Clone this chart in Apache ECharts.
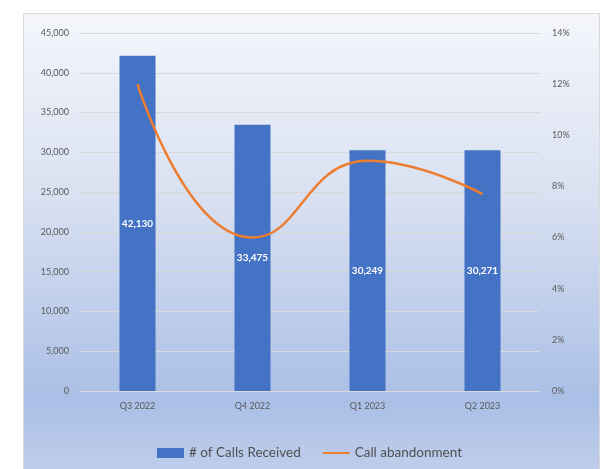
<!DOCTYPE html>
<html>
<head>
<meta charset="utf-8">
<script src="https://cdn.jsdelivr.net/npm/echarts@6/dist/echarts.min.js"></script>
<style>
  html, body { margin: 0; padding: 0; background: #ffffff; }
  #chart { width: 604px; height: 469px; }
</style>
</head>
<body>
<div id="chart"></div>
<script>
// Quarterly call-centre volume and abandonment rate
const quarters = ['Q3 2022', 'Q4 2022', 'Q1 2023', 'Q2 2023'];
const callsReceived = [42130, 33475, 30249, 30271];
const abandonmentPct = [12.0, 6.0, 9.0, 7.7];
const leftTicks = { min: 0, max: 45000, interval: 5000 };
const rightTicks = { min: 0, max: 14, interval: 2 };

const fontFamily = 'Lato, "Liberation Sans", sans-serif';
const textGrey = '#595959';

const chart = echarts.init(document.getElementById('chart'), null, { renderer: 'canvas' });

chart.setOption({
  animation: false,
  backgroundColor: '#ffffff',
  graphic: [{
    type: 'rect',
    z: -10,
    silent: true,
    shape: { x: 23.5, y: 13.5, width: 576, height: 470 },
    style: {
      fill: new echarts.graphic.LinearGradient(0, 0, 0, 1, [
        { offset: 0, color: '#f4f6fb' },
        { offset: 0.4, color: '#d8e0f1' },
        { offset: 0.82, color: '#aabfe6' },
        { offset: 1, color: '#c3d0ec' }
      ]),
      stroke: '#d9d9d9',
      lineWidth: 1
    }
  }],
  grid: { left: 80, right: 64, top: 33, bottom: 78, containLabel: false },
  legend: {
    left: 152,
    top: 441,
    itemGap: 22,
    itemWidth: 27,
    itemHeight: 10,
    textStyle: { color: '#505050', fontSize: 13.5, fontFamily: fontFamily },
    data: [
      { name: '# of Calls Received', icon: 'rect' },
      { name: 'Call abandonment', icon: 'path://M0,4 L27,4 L27,6 L0,6 Z' }
    ]
  },
  xAxis: {
    type: 'category',
    data: quarters,
    axisLine: { show: false },
    axisTick: { show: false },
    axisLabel: { color: textGrey, fontSize: 9, fontFamily: fontFamily, margin: 11 }
  },
  yAxis: [{
    type: 'value',
    min: leftTicks.min,
    max: leftTicks.max,
    interval: leftTicks.interval,
    axisLine: { show: false },
    axisTick: { show: false },
    splitLine: { lineStyle: { color: '#d9d9d9', width: 1 } },
    axisLabel: {
      color: textGrey, fontSize: 9, fontFamily: fontFamily, margin: 11,
      formatter: v => v.toLocaleString('en-US')
    }
  }, {
    type: 'value',
    min: rightTicks.min,
    max: rightTicks.max,
    interval: rightTicks.interval,
    axisLine: { show: false },
    axisTick: { show: false },
    splitLine: { show: false },
    axisLabel: {
      color: textGrey, fontSize: 9, fontFamily: fontFamily, margin: 12,
      formatter: '{value}%'
    }
  }],
  series: [{
    name: '# of Calls Received',
    type: 'bar',
    yAxisIndex: 0,
    data: callsReceived,
    barWidth: 36,
    itemStyle: { color: '#4472c4' },
    label: {
      show: true,
      position: 'inside',
      color: '#ffffff',
      fontWeight: 'bold',
      fontSize: 10,
      fontFamily: fontFamily,
      formatter: p => p.value.toLocaleString('en-US')
    }
  }, {
    name: 'Call abandonment',
    type: 'line',
    yAxisIndex: 1,
    data: abandonmentPct,
    smooth: 0.5,
    showSymbol: false,
    symbol: 'none',
    lineStyle: { color: '#ed7d31', width: 2.5 },
    itemStyle: { color: '#ed7d31' }
  }]
});
</script>
</body>
</html>
